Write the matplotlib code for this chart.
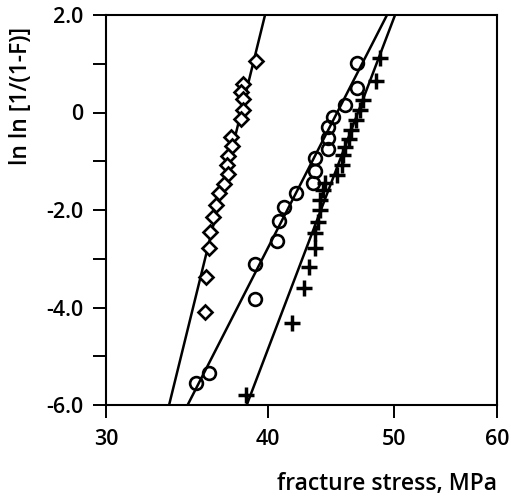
import matplotlib
matplotlib.use("Agg")
import matplotlib.pyplot as plt
from matplotlib.ticker import FixedLocator, NullLocator, NullFormatter

# ---- data (x: stress in MPa, y: ln ln[1/(1-F)]) ----
diamond_x = [39.14, 38.25, 38.11, 38.25, 38.25, 38.11, 37.44, 37.51, 37.24, 37.18,
             37.24, 36.98, 36.65, 36.46, 36.27, 36.07, 36.01, 35.82, 35.76]
diamond_y = [1.06, 0.58, 0.42, 0.28, 0.05, -0.13, -0.50, -0.69, -0.89, -1.08,
             -1.26, -1.47, -1.65, -1.90, -2.14, -2.45, -2.78, -3.37, -4.09]

circle_x = [35.2, 36.0, 39.1, 39.1, 40.6, 40.8, 41.1, 42.0, 43.3, 43.45,
            43.45, 44.5, 44.5, 44.5, 44.9, 45.8, 46.8, 46.8]
circle_y = [-5.55, -5.34, -3.83, -3.11, -2.64, -2.23, -1.94, -1.65, -1.45, -1.20,
            -0.93, -0.75, -0.52, -0.30, -0.09, 0.15, 0.50, 1.02]

plus_x = [38.45, 41.72, 42.62, 42.99, 43.45, 43.45, 43.68, 43.84, 43.84, 44.07, 44.23,
          45.18, 45.59, 45.67, 45.83, 46.15, 46.32, 46.73, 47.06, 47.31, 48.42, 48.76]
plus_y = [-5.79, -4.32, -3.60, -3.17, -2.78, -2.47, -2.25, -2.00, -1.79, -1.59, -1.45,
          -1.28, -1.08, -0.87, -0.71, -0.54, -0.36, -0.15, 0.05, 0.26, 0.65, 1.12]

# fitted lines: stress where each line crosses y = -6 and y = 2
fit_y = [-6.0, 2.0]
diamond_fit = [33.55, 39.77]
circle_fit = [34.67, 49.37]
plus_fit = [38.5, 50.08]

xticks = [30, 40, 50, 60]
yticks = [-6, -4, -2, 0, 2]
yticklabels = ["-6.0", "-4.0", "-2.0", "0", "2.0"]
yminor = [-5, -3, -1, 1]

plt.rcParams["font.family"] = ["Open Sans", "DejaVu Sans"]
FS = 15.5

fig = plt.figure(figsize=(5.11, 4.99), dpi=100)
ax = fig.add_axes([106 / 511, 1 - 405 / 499, 391 / 511, 390 / 499])

for fx in (diamond_fit, circle_fit, plus_fit):
    ax.plot(fx, fit_y, color="black", lw=1.8, solid_capstyle="butt")

ax.plot(diamond_x, diamond_y, ls="none", marker="D", ms=7.0, mfc="white",
        mec="black", mew=1.9)
ax.plot(circle_x, circle_y, ls="none", marker="o", ms=9.2, mfc="none",
        mec="black", mew=1.9)
ax.plot(plus_x, plus_y, ls="none", marker="+", ms=11, mec="black", mew=2.5)

ax.set_xscale("log")
ax.set_xlim(30, 60)
ax.set_ylim(-6, 2)
ax.xaxis.set_major_locator(FixedLocator(xticks))
ax.xaxis.set_minor_locator(NullLocator())
ax.xaxis.set_minor_formatter(NullFormatter())
ax.set_xticklabels([str(v) for v in xticks])
ax.set_yticks(yticks)
ax.set_yticklabels(yticklabels)
ax.yaxis.set_minor_locator(FixedLocator(yminor))

ax.tick_params(axis="both", which="both", direction="out", length=9.5, width=1.4,
               labelsize=FS)
ax.tick_params(axis="x", pad=8)
ax.tick_params(axis="y", pad=7)
for lab in ax.get_xticklabels() + ax.get_yticklabels():
    lab.set_fontweight("semibold")
for s in ax.spines.values():
    s.set_linewidth(1.5)

fig.text(21 / 511, 1 - 96 / 499, "ln ln [1/(1-F)]", rotation=90, ha="center",
         va="center", fontsize=16.5, fontweight="semibold")
fig.text(497 / 511, 1 - 484 / 499, "fracture stress, MPa", ha="right",
         va="center", fontsize=16.5, fontweight="semibold")

fig.savefig("out.png", dpi=100)
